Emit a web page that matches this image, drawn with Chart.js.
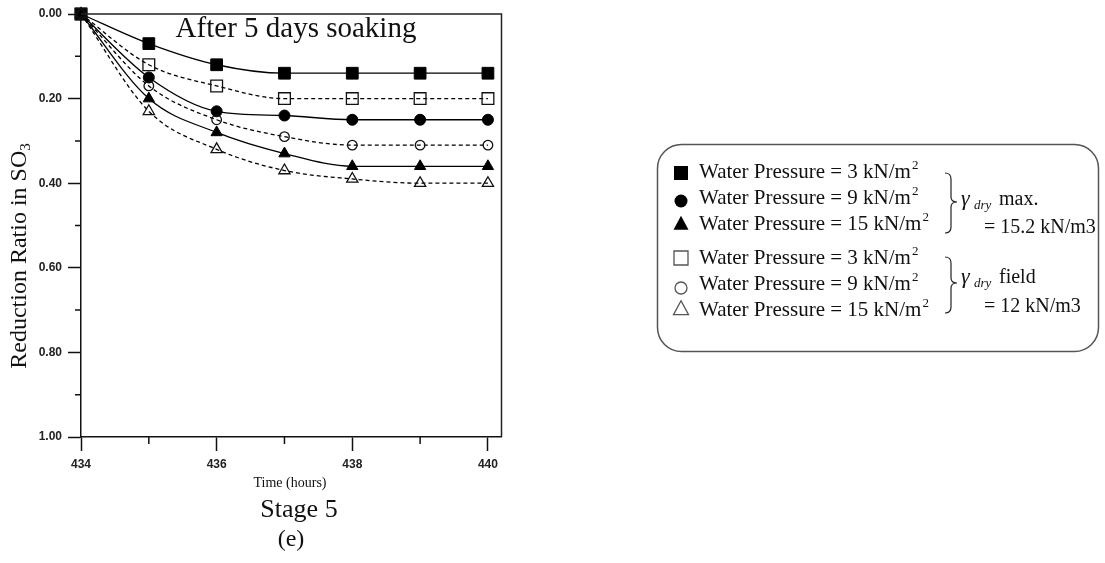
<!DOCTYPE html>
<html><head><meta charset="utf-8">
<script src="https://cdn.jsdelivr.net/npm/chart.js@4.4.0/dist/chart.umd.min.js"></script>
<style>html,body{margin:0;padding:0;background:#fff;}canvas{display:block;}</style>
</head><body>
<canvas id="c" width="1105" height="563"></canvas>
<script>
// ---- data ----
const hours = [434, 435, 436, 437, 438, 439, 440];
const maxP3  = [0, 0.07, 0.12, 0.14, 0.14, 0.14, 0.14];
const maxP9  = [0, 0.15, 0.23, 0.24, 0.25, 0.25, 0.25];
const maxP15 = [0, 0.20, 0.28, 0.33, 0.36, 0.36, 0.36];
const fieldP3  = [0, 0.12, 0.17, 0.20, 0.20, 0.20, 0.20];
const fieldP9  = [0, 0.17, 0.25, 0.29, 0.31, 0.31, 0.31];
const fieldP15 = [0, 0.23, 0.32, 0.37, 0.39, 0.40, 0.40];
const seriesNames = ['Water Pressure = 3 kN/m', 'Water Pressure = 9 kN/m', 'Water Pressure = 15 kN/m',
                     'Water Pressure = 3 kN/m', 'Water Pressure = 9 kN/m', 'Water Pressure = 15 kN/m'];
const yTickLabels = ['0.00', '0.20', '0.40', '0.60', '0.80', '1.00'];
const xTickLabels = ['434', '436', '438', '440'];
const chartTitle = 'After 5 days soaking';
const xTitle = 'Time (hours)';
const yTitle = 'Reduction Ratio in SO';
const caption1 = 'Stage 5';
const caption2 = '(e)';

const toPts = arr => arr.map((v, i) => ({x: hours[i], y: v}));
const SERIF = '"Liberation Serif", "Times New Roman", serif';
const SANS = '"Liberation Sans", Arial, sans-serif';

function ds(label, values, style, radius, filled) {
  return {
    label, data: toPts(values),
    borderColor: '#000', borderWidth: 1.3,
    borderDash: filled ? [] : [4, 3],
    cubicInterpolationMode: 'monotone',
    pointStyle: style, pointRadius: radius, pointHoverRadius: radius,
    pointBackgroundColor: filled ? '#000' : 'rgba(0,0,0,0)',
    pointBorderColor: filled ? '#000' : '#111',
    pointBorderWidth: filled ? 1 : 1.3,
    clip: false, fill: false
  };
}

const datasets = [
  ds(seriesNames[5], fieldP15, 'triangle', 6.5, false),
  ds(seriesNames[4], fieldP9, 'circle', 4.8, false),
  ds(seriesNames[3], fieldP3, 'rect', 8.3, false),
  ds(seriesNames[2], maxP15, 'triangle', 6.5, true),
  ds(seriesNames[1], maxP9, 'circle', 5.5, true),
  ds(seriesNames[0], maxP3, 'rect', 8.3, true)
];

function marker(ctx, kind, x, y, r, filled, color) {
  ctx.save();
  ctx.beginPath();
  if (kind === 'rect') ctx.rect(x - r, y - r, 2 * r, 2 * r);
  else if (kind === 'circle') ctx.arc(x, y, r, 0, Math.PI * 2);
  else { ctx.moveTo(x, y - r * 1.1); ctx.lineTo(x + r, y + r * 0.75); ctx.lineTo(x - r, y + r * 0.75); ctx.closePath(); }
  if (filled) { ctx.fillStyle = color; ctx.fill(); }
  else { ctx.strokeStyle = color; ctx.lineWidth = 1.3; ctx.stroke(); }
  ctx.restore();
}

function brace(ctx, x, top, tip, bottom) {
  ctx.save();
  ctx.strokeStyle = '#222'; ctx.lineWidth = 1.2;
  ctx.beginPath();
  ctx.moveTo(x, top);
  ctx.quadraticCurveTo(x + 6, top, x + 6, top + 6);
  ctx.lineTo(x + 6, tip - 5);
  ctx.quadraticCurveTo(x + 6, tip, x + 12, tip);
  ctx.quadraticCurveTo(x + 6, tip, x + 6, tip + 5);
  ctx.lineTo(x + 6, bottom - 6);
  ctx.quadraticCurveTo(x + 6, bottom, x, bottom);
  ctx.stroke();
  ctx.restore();
}

const decor = {
  id: 'decor',
  afterDraw(chart) {
    const ctx = chart.ctx, a = chart.chartArea;
    const xs = chart.scales.x, ys = chart.scales.y;
    ctx.save();
    // frame top/right
    ctx.strokeStyle = '#222'; ctx.lineWidth = 1.5;
    ctx.beginPath();
    ctx.moveTo(a.left, a.top); ctx.lineTo(a.right, a.top); ctx.lineTo(a.right, a.bottom);
    ctx.stroke();
    // minor ticks
    ctx.strokeStyle = '#111'; ctx.lineWidth = 1.5;
    ctx.beginPath();
    [0.1, 0.3, 0.5, 0.7, 0.9].forEach(v => { const p = ys.getPixelForValue(v); ctx.moveTo(a.left - 6, p); ctx.lineTo(a.left, p); });
    [435, 437, 439].forEach(v => { const p = xs.getPixelForValue(v); ctx.moveTo(p, a.bottom); ctx.lineTo(p, a.bottom + 7); });
    ctx.stroke();

    ctx.fillStyle = '#111';
    // chart title
    ctx.font = '29px ' + SERIF; ctx.textAlign = 'center'; ctx.textBaseline = 'alphabetic';
    ctx.fillText(chartTitle, 296, 37);
    // x title and captions
    ctx.font = '14px ' + SERIF;
    ctx.fillText(xTitle, 290, 487);
    ctx.font = '26px ' + SERIF;
    ctx.fillText(caption1, 299, 517);
    ctx.font = '24px ' + SERIF;
    ctx.fillText(caption2, 291, 546);

    // y title (rotated) with subscript
    ctx.save();
    ctx.translate(26, 256);
    ctx.rotate(-Math.PI / 2);
    ctx.font = '24px ' + SERIF;
    const w1 = ctx.measureText(yTitle).width;
    ctx.font = '15px ' + SERIF;
    const w2 = ctx.measureText('3').width;
    const start = -(w1 + w2) / 2;
    ctx.textAlign = 'left';
    ctx.font = '24px ' + SERIF;
    ctx.fillText(yTitle, start, 0);
    ctx.font = '15px ' + SERIF;
    ctx.fillText('3', start + w1, 4);
    ctx.restore();

    // legend box
    ctx.strokeStyle = '#555'; ctx.lineWidth = 1.5;
    ctx.beginPath();
    ctx.roundRect(657.5, 144.5, 441, 207, 24);
    ctx.stroke();

    const rows = [178, 204, 230, 264, 290, 316];
    const kinds = ['rect', 'circle', 'triangle', 'rect', 'circle', 'triangle'];
    const sizes = [7, 6.5, 7.5, 7, 6, 7.5];
    const offs = [-5, -3, -6, -6, -2, -7];
    ctx.textAlign = 'left';
    rows.forEach((by, i) => {
      const filled = i < 3;
      marker(ctx, kinds[i], 681, by + offs[i], sizes[i], filled, filled ? '#000' : '#555');
      ctx.fillStyle = '#111';
      ctx.font = '21px ' + SERIF;
      ctx.fillText(seriesNames[i], 699, by);
      const w = ctx.measureText(seriesNames[i]).width;
      ctx.font = '13px ' + SERIF;
      ctx.fillText('2', 699 + w + 1, by - 9);
    });

    brace(ctx, 945, 173, 202, 233);
    brace(ctx, 945, 257, 283, 313);

    function gammaLabel(y, word) {
      ctx.font = 'italic 22px ' + SERIF;
      ctx.fillText('γ', 961, y);
      ctx.font = 'italic 13px ' + SERIF;
      ctx.fillText('dry', 974, y + 4);
      ctx.font = '20px ' + SERIF;
      ctx.fillText(word, 999, y);
    }
    gammaLabel(205, 'max.');
    ctx.font = '20px ' + SERIF;
    ctx.fillText('= 15.2 kN/m3', 984, 233);
    gammaLabel(283, 'field');
    ctx.font = '20px ' + SERIF;
    ctx.fillText('= 12 kN/m3', 984, 312);
    ctx.restore();
  }
};

new Chart(document.getElementById('c'), {
  type: 'line',
  data: { datasets },
  options: {
    responsive: false, devicePixelRatio: 1, animation: false,
    layout: { padding: { top: 14, right: 603.5, left: 0, bottom: 0 } },
    plugins: { legend: { display: false }, tooltip: { enabled: false } },
    scales: {
      x: {
        type: 'linear', min: 434, max: 440.2,
        ticks: {
          stepSize: 1, includeBounds: false, autoSkip: false, maxRotation: 0, padding: 6,
          color: '#222', font: { family: SANS, size: 12, weight: 'bold' },
          callback: v => xTickLabels.includes(String(v)) ? String(v) : ''
        },
        grid: {
          drawOnChartArea: false, tickLength: 14, tickWidth: 1.5,
          tickColor: c => (c.tick && xTickLabels.includes(String(c.tick.value))) ? '#111' : 'rgba(0,0,0,0)'
        },
        border: { color: '#111', width: 1.5 },
        afterFit: s => { s.height = 126; }
      },
      y: {
        type: 'linear', min: 0, max: 1, reverse: true,
        ticks: {
          stepSize: 0.1, includeBounds: false, autoSkip: false, padding: 6,
          color: '#222', font: { family: SANS, size: 12, weight: 'bold' },
          callback: v => { const s = Number(v).toFixed(2); return yTickLabels.includes(s) ? s : ''; }
        },
        grid: {
          drawOnChartArea: false, tickLength: 13, tickWidth: 1.5,
          tickColor: c => (c.tick && yTickLabels.includes(Number(c.tick.value).toFixed(2))) ? '#111' : 'rgba(0,0,0,0)'
        },
        border: { color: '#111', width: 1.5 },
        afterFit: s => { s.width = 81; }
      }
    }
  },
  plugins: [decor]
});
</script>
</body></html>
